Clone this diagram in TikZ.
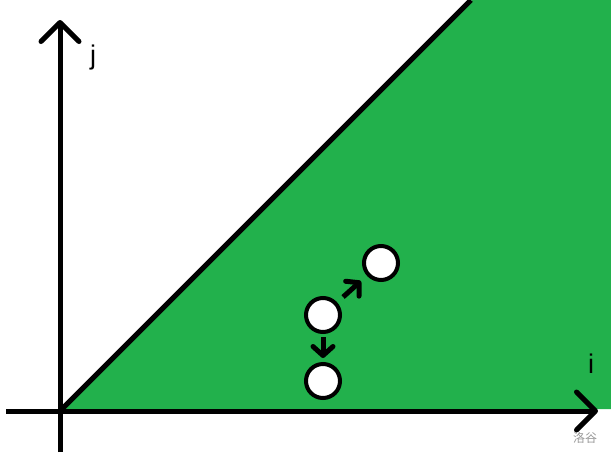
\documentclass[tikz,border=0pt]{standalone}
\usepackage{fontspec}
\setmainfont{Liberation Sans}
\newfontfamily\cjkfont{Noto Sans CJK SC}
\usetikzlibrary{arrows.meta}
\definecolor{regiongreen}{RGB}{34,177,76}

\begin{document}
\begin{tikzpicture}[x=1pt, y=-1pt, axis/.style={line width=5pt, -{Straight Barb[length=19pt,width=38pt,round]}}, cell/.style={circle, draw, line width=4pt, fill=white, minimum size=34pt, inner sep=0pt}, move/.style={line width=5pt, -{Straight Barb[length=9pt,width=20pt,round]}}]
\useasboundingbox (0,0) rectangle (611,459);
% region below the diagonal
\fill[regiongreen] (62,410) -- (472,0) -- (611,0) -- (611,409) -- cycle;
\coordinate (origin) at (60,411);
\coordinate (jbot) at (60,452);
\coordinate (jtop) at (60,20);
\coordinate (ileft) at (6,411);
\coordinate (iright) at (598,411);
\coordinate (diagend) at (471,0);
\draw[line width=5pt] (origin) -- (diagend);
\draw[axis] (jbot) -- (jtop);
\draw[axis] (ileft) -- (iright);
\node[font=\fontsize{27}{27}\selectfont] (jlabel) at (93,58) {j};
\node[font=\fontsize{27}{27}\selectfont] (ilabel) at (591,364) {i};
% cells and moves
\node[cell] (mid) at (323,315) {};
\node[cell] (top) at (381,263) {};
\node[cell] (bot) at (323,381) {};
\draw[move, shorten <=3pt, shorten >=4pt] (mid) -- (bot);
\draw[move, shorten <=8pt, shorten >=8pt] (mid) -- (top);
\node[font=\cjkfont\fontsize{12}{12}\selectfont, text=black!40] (mark) at (585,438) {洛谷};
\end{tikzpicture}
\end{document}
